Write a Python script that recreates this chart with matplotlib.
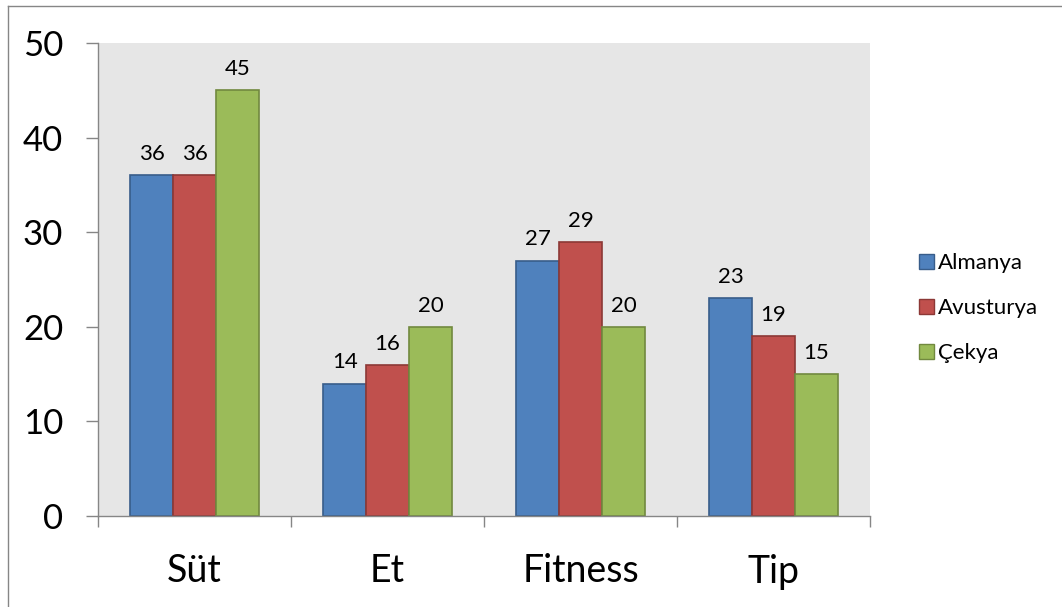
import matplotlib.pyplot as plt
import numpy as np
from matplotlib.patches import Patch
from matplotlib.lines import Line2D

plt.rcParams['font.family'] = ['Lato', 'DejaVu Sans']

# veriler
kategoriler = ["Süt", "Et", "Fitness", "Tip"]
almanya = [36, 14, 27, 23]
avusturya = [36, 16, 29, 19]
cekya = [45, 20, 20, 15]
seriler = ["Almanya", "Avusturya", "Çekya"]
renkler = ["#4F81BD", "#C0504D", "#9BBB59"]
kenarlar = ["#385D8A", "#8C3836", "#71893F"]

fig = plt.figure(figsize=(10.62, 6.07), dpi=100)
ax = fig.add_axes([98 / 1062, 91 / 607, 772 / 1062, 473 / 607])
ax.set_facecolor("#E6E6E6")

x = np.arange(len(kategoriler))
w = 0.2222
for i, (vals, c, ec) in enumerate(zip([almanya, avusturya, cekya], renkler, kenarlar)):
    bars = ax.bar(x + (i - 1) * w, vals, w, color=c, edgecolor=ec, linewidth=1.2, label=seriler[i])
    for b, v in zip(bars, vals):
        ax.annotate(str(v), (b.get_x() + b.get_width() / 2, v), xytext=(0, 8),
                    textcoords="offset points", ha="center", va="bottom", fontsize=16)

ax.set_xlim(-0.5, 3.5)
ax.set_ylim(0, 50)
ax.set_yticks(range(0, 51, 10))
ax.tick_params(axis="y", length=9, width=1, color="#868686", pad=16, labelsize=25)
ax.set_xticks(np.arange(-0.5, 4, 1))
ax.set_xticklabels([])
ax.tick_params(axis="x", which="major", length=8, width=1, color="#868686")
ax.set_xticks(x, minor=True)
ax.set_xticklabels(kategoriler, minor=True)
ax.tick_params(axis="x", which="minor", length=0, pad=27, labelsize=27)
for s in ["top", "right"]:
    ax.spines[s].set_visible(False)
for s in ["left", "bottom"]:
    ax.spines[s].set_color("#868686")
    ax.spines[s].set_linewidth(1)

# dış çerçeve
fig.add_artist(Line2D([8 / 1062, 8 / 1062], [0, 1 - 6 / 607], color="#868686", lw=1))
fig.add_artist(Line2D([8 / 1062, 1], [1 - 6 / 607, 1 - 6 / 607], color="#868686", lw=1))

handles = [Patch(facecolor=c, edgecolor=ec) for c, ec in zip(renkler, kenarlar)]
fig.legend(handles, seriler, loc="upper left", bbox_to_anchor=(908 / 1062, 1 - 242 / 607),
           frameon=False, fontsize=16, handlelength=0.65, handleheight=0.65,
           handletextpad=0.2, labelspacing=1.12, borderpad=0)

fig.savefig("out.png", dpi=100)
